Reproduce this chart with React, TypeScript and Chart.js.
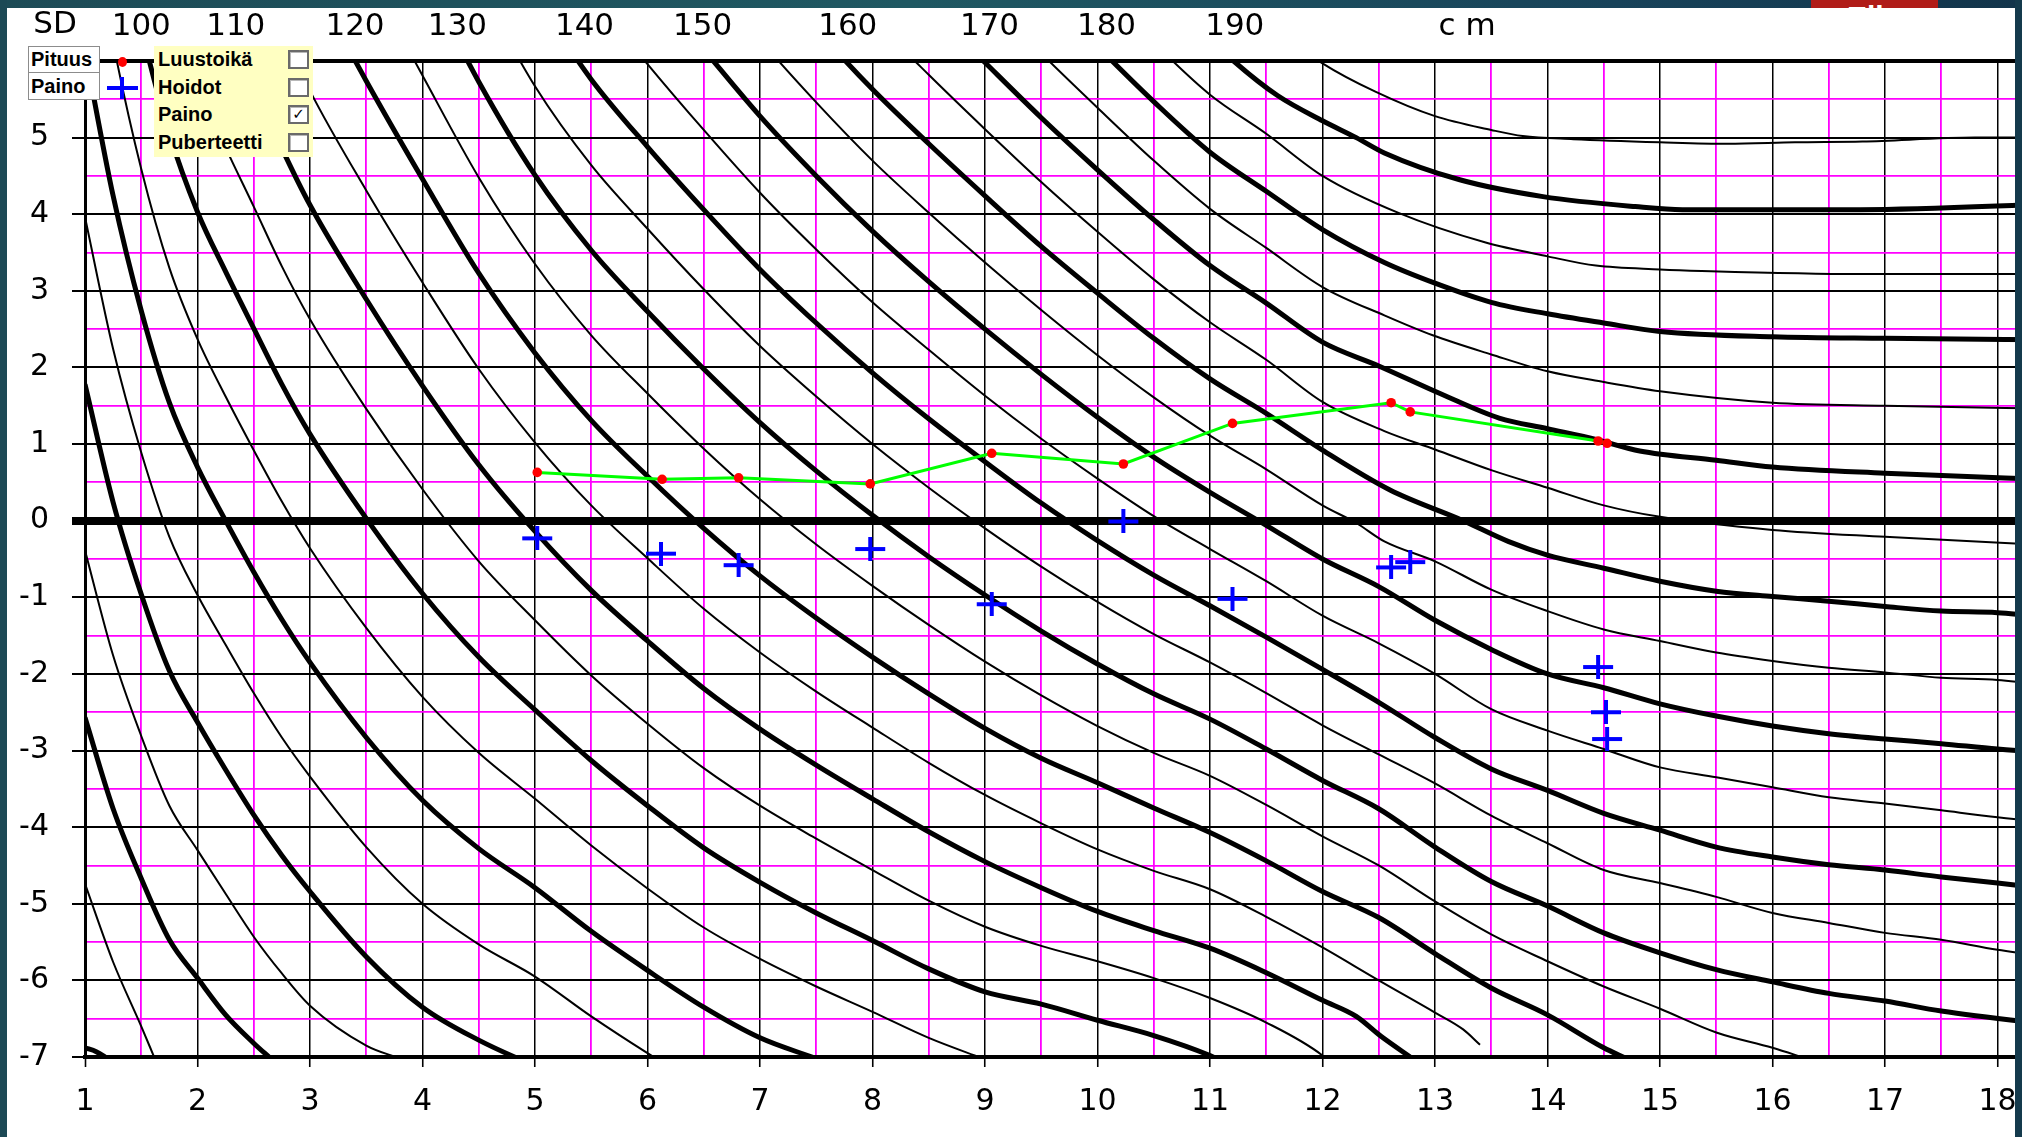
import React, { useEffect, useRef } from "react";
import { Chart, registerables } from "chart.js";

Chart.register(...registerables);

// ---------- axis labels ----------
const xTickLabels = [1, 2, 3, 4, 5, 6, 7, 8, 9, 10, 11, 12, 13, 14, 15, 16, 17, 18];
const yTickLabels = [6, 5, 4, 3, 2, 1, 0, -1, -2, -3, -4, -5, -6, -7];
const topLabelAges = [1.5, 2.34, 3.4, 4.31, 5.44, 6.49, 7.78, 9.04, 10.08, 11.22, 13.33];
const topLabelTexts = ["100", "110", "120", "130", "140", "150", "160", "170", "180", "190", "cm"];

// ---------- height curves (age, SD) ----------
const h060 = [[1, -6.88], [1.1, -6.93], [1.2, -7.02]];
const h065 = [[1, -4.74], [1.25, -5.76], [1.5, -6.6], [1.62, -7.02]];
const h070 = [[1, -2.57], [1.25, -3.76], [1.5, -4.67], [1.75, -5.47], [2, -5.97], [2.25, -6.45], [2.5, -6.82], [2.65, -7.02]];
const h075 = [[1, -0.39], [1.25, -1.76], [1.5, -2.81], [1.75, -3.72], [2, -4.3], [2.25, -4.87], [2.5, -5.43], [2.75, -5.91], [3, -6.33], [3.5, -6.85], [3.8, -7.02]];
const h080 = [[1, 1.78], [1.25, 0.24], [1.5, -0.96], [1.75, -1.96], [2, -2.63], [2.25, -3.25], [2.5, -3.84], [2.75, -4.37], [3, -4.84], [3.5, -5.69], [4, -6.35], [4.5, -6.78], [5, -7.12]];
const h085 = [[1, 3.96], [1.25, 2.24], [1.5, 0.89], [1.75, -0.21], [2, -0.97], [2.25, -1.62], [2.5, -2.25], [2.75, -2.83], [3, -3.34], [3.5, -4.26], [4, -5.0], [4.5, -5.53], [5, -5.95], [5.5, -6.47], [6, -6.95], [6.5, -7.4]];
const h090 = [[1, 6.13], [1.25, 4.24], [1.5, 2.74], [1.75, 1.54], [2, 0.7], [2.25, 0], [2.5, -0.67], [2.75, -1.29], [3, -1.85], [3.5, -2.83], [4, -3.65], [4.5, -4.28], [5, -4.79], [5.5, -5.36], [6, -5.87], [6.5, -6.35], [7, -6.75], [7.5, -7.02]];
const h095 = [[1, 8.3], [1.25, 6.24], [1.5, 4.59], [1.75, 3.3], [2, 2.37], [2.25, 1.62], [2.5, 0.92], [2.75, 0.25], [3, -0.36], [3.5, -1.4], [4, -2.3], [4.5, -3.03], [5, -3.63], [5.5, -4.24], [6, -4.8], [6.5, -5.31], [7, -5.72], [7.5, -6.08], [8, -6.41], [8.5, -6.75], [9, -7.03]];
const h100 = [[1.25, 8.24], [1.5, 6.44], [1.75, 5.05], [2, 4.03], [2.25, 3.25], [2.5, 2.51], [2.75, 1.78], [3, 1.13], [3.5, 0.03], [4, -0.95], [4.5, -1.78], [5, -2.47], [5.5, -3.13], [6, -3.72], [6.5, -4.27], [7, -4.72], [7.5, -5.12], [8, -5.48], [8.5, -5.85], [9, -6.15], [9.5, -6.31], [10, -6.52], [10.5, -6.72], [11, -6.98], [11.1, -7.05]];
const h105 = [[1.5, 8.3], [1.75, 6.81], [2, 5.7], [2.25, 4.87], [2.5, 4.1], [2.75, 3.32], [3, 2.63], [3.5, 1.46], [4, 0.41], [4.5, -0.53], [5, -1.3], [5.5, -2.02], [6, -2.65], [6.5, -3.23], [7, -3.72], [7.5, -4.15], [8, -4.56], [8.5, -4.96], [9, -5.3], [9.5, -5.55], [10, -5.75], [10.5, -5.97], [11, -6.23], [11.5, -6.55], [12, -6.98], [12.05, -7.05]];
const h110 = [[2, 7.37], [2.25, 6.49], [2.5, 5.68], [2.75, 4.86], [3, 4.12], [3.5, 2.89], [4, 1.76], [4.5, 0.73], [5, -0.14], [5.5, -0.91], [6, -1.57], [6.5, -2.19], [7, -2.72], [7.5, -3.19], [8, -3.63], [8.5, -4.06], [9, -4.45], [9.5, -4.79], [10, -5.1], [10.5, -5.35], [11, -5.58], [11.5, -5.9], [12, -6.26], [12.3, -6.47], [12.52, -6.73], [12.8, -7.02]];
const h115 = [[2.5, 7.27], [2.75, 6.4], [3, 5.61], [3.5, 4.31], [4, 3.11], [4.5, 1.98], [5, 1.02], [5.5, 0.2], [6, -0.49], [6.5, -1.15], [7, -1.72], [7.5, -2.23], [8, -2.7], [8.5, -3.16], [9, -3.58], [9.5, -3.95], [10, -4.29], [10.5, -4.57], [11, -4.81], [11.5, -5.17], [12, -5.57], [12.5, -6.0], [13, -6.42], [13.25, -6.64], [13.4, -6.84]];
const h120 = [[3, 7.1], [3.5, 5.74], [4, 4.46], [4.5, 3.23], [5, 2.19], [5.5, 1.31], [6, 0.58], [6.5, -0.1], [7, -0.72], [7.5, -1.27], [8, -1.78], [8.5, -2.26], [9, -2.71], [9.5, -3.1], [10, -3.42], [10.5, -3.75], [11, -4.07], [11.5, -4.44], [12, -4.84], [12.5, -5.18], [13, -5.65], [13.5, -6.1], [14, -6.45], [14.5, -6.88], [14.7, -7.02]];
const h125 = [[3.5, 7.17], [4, 5.81], [4.5, 4.48], [5, 3.35], [5.5, 2.42], [6, 1.66], [6.5, 0.94], [7, 0.28], [7.5, -0.31], [8, -0.85], [8.5, -1.36], [9, -1.84], [9.5, -2.28], [10, -2.68], [10.5, -3.03], [11, -3.33], [11.5, -3.71], [12, -4.12], [12.5, -4.5], [13, -4.97], [13.5, -5.4], [14, -5.75], [14.5, -6.08], [15, -6.37], [15.5, -6.68], [16, -6.88], [16.3, -7.02]];
const h130 = [[4, 7.16], [4.5, 5.73], [5, 4.51], [5.5, 3.53], [6, 2.73], [6.5, 1.98], [7, 1.28], [7.5, 0.65], [8, 0.07], [8.5, -0.47], [9, -0.97], [9.5, -1.44], [10, -1.87], [10.5, -2.26], [11, -2.59], [11.5, -2.98], [12, -3.39], [12.5, -3.76], [13, -4.26], [13.5, -4.71], [14, -5.03], [14.5, -5.38], [15, -5.64], [15.5, -5.86], [16, -6.02], [16.5, -6.17], [17, -6.27], [17.5, -6.4], [18.6, -6.6]];
const h135 = [[4.5, 6.98], [5, 5.67], [5.5, 4.64], [6, 3.81], [6.5, 3.02], [7, 2.28], [7.5, 1.62], [8, 1.0], [8.5, 0.43], [9, -0.1], [9.5, -0.6], [10, -1.06], [10.5, -1.48], [11, -1.85], [11.5, -2.25], [12, -2.67], [12.5, -3.05], [13, -3.43], [13.5, -3.85], [14, -4.21], [14.5, -4.56], [15, -4.73], [15.5, -4.91], [16, -5.12], [16.5, -5.25], [17, -5.38], [17.5, -5.47], [18, -5.6], [18.6, -5.72]];
const h140 = [[5, 6.84], [5.5, 5.76], [6, 4.88], [6.5, 4.06], [7, 3.28], [7.5, 2.58], [8, 1.93], [8.5, 1.33], [9, 0.77], [9.5, 0.23], [10, -0.26], [10.5, -0.71], [11, -1.11], [11.5, -1.52], [12, -1.94], [12.5, -2.37], [13, -2.83], [13.5, -3.24], [14, -3.52], [14.5, -3.82], [15, -4.04], [15.5, -4.26], [16, -4.39], [16.5, -4.49], [17, -4.56], [17.5, -4.65], [18, -4.73], [18.6, -4.83]];
const h145 = [[5.5, 6.87], [6, 5.96], [6.5, 5.1], [7, 4.28], [7.5, 3.54], [8, 2.85], [8.5, 2.23], [9, 1.63], [9.5, 1.07], [10, 0.55], [10.5, 0.06], [11, -0.37], [11.5, -0.79], [12, -1.24], [12.5, -1.6], [13, -2.0], [13.5, -2.46], [14, -2.74], [14.5, -2.98], [15, -3.22], [15.5, -3.35], [16, -3.48], [16.5, -3.61], [17, -3.69], [17.5, -3.78], [18, -3.87], [18.6, -3.96]];
const h150 = [[6, 7.03], [6.5, 6.15], [7, 5.28], [7.5, 4.5], [8, 3.78], [8.5, 3.12], [9, 2.5], [9.5, 1.91], [10, 1.35], [10.5, 0.83], [11, 0.37], [11.5, -0.06], [12, -0.5], [12.5, -0.86], [13, -1.3], [13.5, -1.68], [14, -2.0], [14.5, -2.18], [15, -2.39], [15.5, -2.55], [16, -2.68], [16.5, -2.78], [17, -2.85], [17.5, -2.91], [18, -2.98], [18.6, -3.04]];
const h155 = [[6.5, 7.19], [7, 6.28], [7.5, 5.46], [8, 4.7], [8.5, 4.02], [9, 3.37], [9.5, 2.75], [10, 2.16], [10.5, 1.61], [11, 1.11], [11.5, 0.67], [12, 0.2], [12.3, -0.03], [12.55, -0.27], [13, -0.53], [13.5, -0.9], [14, -1.18], [14.5, -1.42], [15, -1.57], [15.5, -1.72], [16, -1.83], [16.5, -1.92], [17, -1.98], [17.5, -2.05], [18, -2.08], [18.6, -2.17]];
const h160 = [[7, 7.28], [7.5, 6.42], [8, 5.63], [8.5, 4.92], [9, 4.24], [9.5, 3.58], [10, 2.97], [10.5, 2.38], [11, 1.85], [11.5, 1.4], [12, 0.92], [12.6, 0.4], [13.25, 0.0], [13.65, -0.27], [14, -0.45], [14.5, -0.62], [15, -0.79], [15.5, -0.92], [16, -0.99], [16.5, -1.05], [17, -1.12], [17.5, -1.18], [18, -1.2], [18.6, -1.28]];
const h165 = [[7.5, 7.38], [8, 6.56], [8.5, 5.82], [9, 5.11], [9.5, 4.42], [10, 3.77], [10.5, 3.15], [11, 2.59], [11.5, 2.1], [12, 1.55], [12.55, 1.17], [13, 0.93], [13.5, 0.66], [14, 0.43], [14.5, 0.2], [15, 0.05], [16, -0.12], [17, -0.21], [18.6, -0.33]];
const h170 = [[8.5, 6.71], [9, 5.98], [9.5, 5.26], [10, 4.58], [10.5, 3.93], [11, 3.33], [11.5, 2.84], [12, 2.33], [12.5, 2.02], [13.06, 1.65], [13.57, 1.34], [14, 1.2], [14.43, 1.06], [14.82, 0.91], [15.5, 0.79], [16, 0.7], [17, 0.62], [18.6, 0.53]];
const h175 = [[9, 6.85], [9.5, 6.1], [10, 5.39], [10.5, 4.7], [11, 4.07], [11.5, 3.56], [12, 3.05], [12.55, 2.68], [12.98, 2.42], [13.5, 2.17], [14, 1.95], [14.5, 1.81], [15, 1.69], [16, 1.54], [17, 1.5], [18.6, 1.46]];
const h180 = [[9.5, 6.93], [10, 6.19], [10.5, 5.47], [11, 4.81], [11.5, 4.3], [12, 3.8], [12.55, 3.37], [13, 3.1], [13.5, 2.85], [14, 2.7], [14.5, 2.58], [15, 2.47], [16, 2.4], [17, 2.38], [18.6, 2.36]];
const h185 = [[10, 7.0], [10.5, 6.24], [11, 5.56], [11.5, 5.05], [12, 4.5], [12.67, 4.02], [13.45, 3.63], [14, 3.45], [14.43, 3.33], [15, 3.28], [15.37, 3.26], [16.78, 3.22], [18.6, 3.22]];
const h190 = [[10.5, 7.0], [11.21, 6.0], [11.6, 5.55], [12, 5.22], [12.3, 5.0], [12.55, 4.8], [13.22, 4.45], [13.96, 4.23], [14.78, 4.1], [15.2, 4.06], [16.78, 4.06], [18.6, 4.14]];
const h195 = [[11.5, 6.51], [12, 5.97], [12.47, 5.6], [13, 5.28], [13.5, 5.1], [13.78, 5.02], [14.23, 4.98], [15, 4.94], [15.6, 4.92], [16.2, 4.94], [16.8, 4.95], [17.8, 5.0], [18.6, 5.0]];

const curveHeights = [60, 65, 70, 75, 80, 85, 90, 95, 100, 105, 110, 115, 120, 125, 130, 135, 140, 145, 150, 155, 160, 165, 170, 175, 180, 185, 190, 195];
const curvePoints = [h060, h065, h070, h075, h080, h085, h090, h095, h100, h105, h110, h115, h120, h125, h130, h135, h140, h145, h150, h155, h160, h165, h170, h175, h180, h185, h190, h195];

// ---------- patient measurements ----------
const pituusAge = [5.02, 6.13, 6.81, 7.98, 9.06, 10.23, 11.2, 12.61, 12.78, 14.45, 14.53];
const pituusSD = [0.63, 0.54, 0.56, 0.48, 0.88, 0.74, 1.27, 1.54, 1.42, 1.04, 1.01];
const painoAge = [5.02, 6.12, 6.81, 7.98, 9.06, 10.23, 11.2, 12.61, 12.78, 14.45, 14.52, 14.53];
const painoSD = [-0.23, -0.43, -0.58, -0.37, -1.09, -0.01, -1.02, -0.61, -0.54, -1.91, -2.5, -2.85];

// ---------- legend texts ----------
const seriesNames = ["Pituus", "Paino"];
const optionNames = ["Luustoikä", "Hoidot", "Paino", "Puberteetti"];
const optionChecked = [false, false, true, false];

const W = 2022;
const H = 1137;
const CANVAS_W = 2050;
const AGE1_PX = 85; // where age 1 sits
const AGE18_PX = 1997.5; // where age 18 sits
const axisFont = '"DejaVu Sans", "Liberation Sans", Arial, sans-serif';
const legendFont = 'bold 20px "Liberation Sans", Arial, sans-serif';

const isInt = (v: number) => Math.abs(v - Math.round(v)) < 1e-6;

export default function App() {
  const ref = useRef<HTMLCanvasElement | null>(null);

  useEffect(() => {
    const canvas = ref.current;
    if (!canvas) return;

    const plus = document.createElement("canvas");
    plus.width = 32;
    plus.height = 24;
    const pc = plus.getContext("2d");
    if (pc) {
      pc.fillStyle = "#0000ff";
      pc.fillRect(1, 10, 30, 4);
      pc.fillRect(14, 0, 4, 24);
    }

    const xGrid: number[] = [];
    xTickLabels.forEach((v) => {
      xGrid.push(v);
      if (v < 18) xGrid.push(v + 0.5);
    });
    const yGrid: number[] = [];
    yTickLabels.forEach((v) => {
      yGrid.push(v);
      if (v > -7) yGrid.push(v - 0.5);
    });

    const curveSets = curveHeights.map((h, i) => ({
      label: h + " cm",
      data: curvePoints[i].map(([x, y]) => ({ x, y })),
      borderColor: "#000000",
      backgroundColor: "#000000",
      borderWidth: h % 10 === 0 ? 5 : 2,
      pointRadius: 0,
      cubicInterpolationMode: "monotone" as const,
      clip: 0,
      order: 10,
    }));

    const topLabels = {
      id: "topLabels",
      afterDraw(chart: any) {
        const ctx = chart.ctx;
        const xs = chart.scales.x;
        ctx.save();
        ctx.fillStyle = "#000";
        ctx.textAlign = "center";
        ctx.textBaseline = "middle";
        ctx.font = "31px " + axisFont;
        topLabelTexts.forEach((t, i) => {
          (ctx as any).letterSpacing = t === "cm" ? "10px" : "0px";
          ctx.fillText(t, xs.getPixelForValue(topLabelAges[i]), 27);
        });
        (ctx as any).letterSpacing = "0px";
        ctx.fillText("SD", 55, 25);
        ctx.restore();
      },
    };

    const chart = new Chart(canvas, {
      type: "line",
      data: {
        datasets: [
          ...curveSets,
          {
            label: seriesNames[0],
            data: pituusAge.map((a, i) => ({ x: a, y: pituusSD[i] })),
            borderColor: "#00ff00",
            borderWidth: 3,
            pointRadius: 4.8,
            pointBackgroundColor: "#ff0000",
            pointBorderColor: "#ff0000",
            pointBorderWidth: 0,
            tension: 0,
            order: 1,
          },
          {
            label: seriesNames[1],
            data: painoAge.map((a, i) => ({ x: a, y: painoSD[i] })),
            showLine: false,
            pointStyle: plus as any,
            pointRadius: 12,
            borderColor: "#0000ff",
            backgroundColor: "#0000ff",
            order: 0,
          },
        ] as any,
      },
      options: {
        responsive: false,
        maintainAspectRatio: false,
        animation: false,
        devicePixelRatio: 1,
        events: [],
        layout: { padding: { top: 61, left: 0, right: 0, bottom: 0 }, autoPadding: false } as any,
        plugins: {
          legend: { display: false },
          tooltip: { enabled: false },
          title: { display: false },
        },
        scales: {
          x: {
            type: "linear",
            min: 1,
            max: 18.45,
            afterBuildTicks: (s: any) => {
              s.ticks = xGrid.map((v) => ({ value: v }));
            },
            afterFit: (s: any) => {
              s.height = 80;
            },
            ticks: {
              autoSkip: false,
              maxRotation: 0,
              minRotation: 0,
              padding: 17,
              color: "#000",
              font: { family: axisFont, size: 30 },
              callback: (v: any) => (isInt(Number(v)) ? String(Math.round(Number(v))) : ""),
            },
            grid: {
              color: (c: any) => (c.tick && !isInt(c.tick.value) ? "#ff00ff" : "#000000"),
              lineWidth: (c: any) => {
                const v = c.tick ? c.tick.value : 0;
                if (Math.abs(v - 1) < 1e-6) return 3;
                return isInt(v) ? 1.5 : 1.8;
              },
              drawTicks: true,
              tickLength: 10,
              tickColor: (c: any) => (c.tick && isInt(c.tick.value) ? "#000000" : "rgba(0,0,0,0)"),
              tickWidth: 1.6,
            },
            border: { display: true, color: "#000", width: 4 },
          },
          y: {
            type: "linear",
            min: -7,
            max: 6,
            afterBuildTicks: (s: any) => {
              s.ticks = yGrid.map((v) => ({ value: v }));
            },
            afterFit: (s: any) => {
              s.width = 85;
            },
            ticks: {
              autoSkip: false,
              padding: 23,
              color: "#000",
              font: { family: axisFont, size: 30 },
              callback: (v: any) => {
                const n = Number(v);
                return isInt(n) && Math.round(n) !== 6 ? String(Math.round(n)) : "";
              },
            },
            grid: {
              color: (c: any) => (c.tick && !isInt(c.tick.value) ? "#ff00ff" : "#000000"),
              lineWidth: (c: any) => {
                const v = c.tick ? c.tick.value : 1;
                if (Math.abs(v) < 1e-6) return 8;
                if (Math.abs(v - 6) < 1e-6 || Math.abs(v + 7) < 1e-6) return 4;
                return isInt(v) ? 2 : 1.8;
              },
              drawTicks: true,
              tickLength: 13,
              tickColor: (c: any) => {
                const v = c.tick ? c.tick.value : 1;
                return isInt(v) && Math.abs(v - 6) > 1e-6 ? "#000000" : "rgba(0,0,0,0)";
              },
              tickWidth: (c: any) => {
                const v = c.tick ? c.tick.value : 1;
                return Math.abs(v) < 1e-6 ? 8 : 2;
              },
            },
            border: { display: true, color: "#000", width: 3 },
          },
        },
      } as any,
      plugins: [topLabels],
    });

    // calibrate the age axis so that age 1 and age 18 land where the reference puts them
    for (let k = 0; k < 4; k++) {
      const xs: any = chart.scales.x;
      const p1 = xs.getPixelForValue(1);
      const p18 = xs.getPixelForValue(18);
      const span = xs.max - xs.min;
      const pxPerYear = (p18 - p1) / 17;
      const wantPerYear = (AGE18_PX - AGE1_PX) / 17;
      if (Math.abs(pxPerYear - wantPerYear) < 0.01) break;
      const newMax = 1 + (span * pxPerYear) / wantPerYear;
      (chart.options as any).scales.x.max = newMax;
      chart.update("none");
    }

    return () => {
      chart.destroy();
    };
  }, []);

  const rowTops = [0, 28, 55, 83];
  const bandGradient = "linear-gradient(90deg, #1d4b56 0%, #1f5862 45%, #18435a 80%, #12344a 100%)";

  return (
    <div
      style={{
        position: "fixed",
        left: 0,
        top: 0,
        width: W,
        height: H,
        overflow: "hidden",
        background: bandGradient,
      }}
    >
      <div style={{ position: "absolute", left: 7, top: 8, width: 2009, height: 1129, background: "#ffffff" }} />
      <canvas
        ref={ref}
        width={CANVAS_W}
        height={H}
        style={{ position: "absolute", left: 0, top: 0, width: CANVAS_W, height: H }}
      />
      {/* frame bands */}
      <div style={{ position: "absolute", left: 0, top: 0, width: W, height: 8, background: bandGradient }} />
      <div style={{ position: "absolute", left: 0, top: 0, width: 7, height: H, background: "#1c4955" }} />
      <div style={{ position: "absolute", left: 2015, top: 0, width: 7, height: H, background: "#143a4c" }} />
      <div
        style={{
          position: "absolute",
          left: 1811,
          top: 0,
          width: 127,
          height: 8,
          background: "#b01c18",
          overflow: "hidden",
        }}
      >
        <div
          style={{
            position: "absolute",
            left: 36,
            top: 2,
            color: "#ffffff",
            font: 'bold 30px "Liberation Sans", Arial, sans-serif',
            lineHeight: "30px",
          }}
        >
          Elio
        </div>
      </div>

      {/* series legend */}
      <div
        style={{
          position: "absolute",
          left: 28,
          top: 46,
          width: 72,
          height: 27,
          boxSizing: "border-box",
          background: "#ffffff",
          border: "1px solid #8c8c8c",
          font: legendFont,
          lineHeight: "25px",
          paddingLeft: 2,
          color: "#000",
        }}
      >
        {seriesNames[0]}
      </div>
      <div
        style={{
          position: "absolute",
          left: 28,
          top: 72,
          width: 72,
          height: 28,
          boxSizing: "border-box",
          background: "#ffffff",
          border: "1px solid #8c8c8c",
          font: legendFont,
          lineHeight: "26px",
          paddingLeft: 2,
          color: "#000",
        }}
      >
        {seriesNames[1]}
      </div>
      <div
        style={{
          position: "absolute",
          left: 118,
          top: 57,
          width: 9,
          height: 10,
          borderRadius: "50%",
          background: "#ff0000",
        }}
      />
      <div style={{ position: "absolute", left: 107, top: 86, width: 31, height: 4, background: "#0000ff" }} />
      <div style={{ position: "absolute", left: 120, top: 77, width: 4, height: 22, background: "#0000ff" }} />

      {/* options panel */}
      <div
        style={{
          position: "absolute",
          left: 154,
          top: 46,
          width: 159,
          height: 111,
          background: "#ffffc2",
        }}
      >
        {optionNames.map((name, i) => (
          <React.Fragment key={name + i}>
            <div
              style={{
                position: "absolute",
                left: 4,
                top: rowTops[i],
                height: 27,
                font: legendFont,
                lineHeight: "27px",
                color: "#000",
                whiteSpace: "nowrap",
              }}
            >
              {name}
            </div>
            <div
              style={{
                position: "absolute",
                left: 134,
                top: rowTops[i] + 4,
                width: 21,
                height: 19,
                boxSizing: "border-box",
                background: "#ffffff",
                border: "2px solid #6a6a6a",
                boxShadow: "inset 1px 1px 0 #b8b8b8",
                font: 'bold 15px "DejaVu Sans", sans-serif',
                lineHeight: "15px",
                textAlign: "center",
                color: "#000",
              }}
            >
              {optionChecked[i] ? "✓" : ""}
            </div>
          </React.Fragment>
        ))}
      </div>
    </div>
  );
}
